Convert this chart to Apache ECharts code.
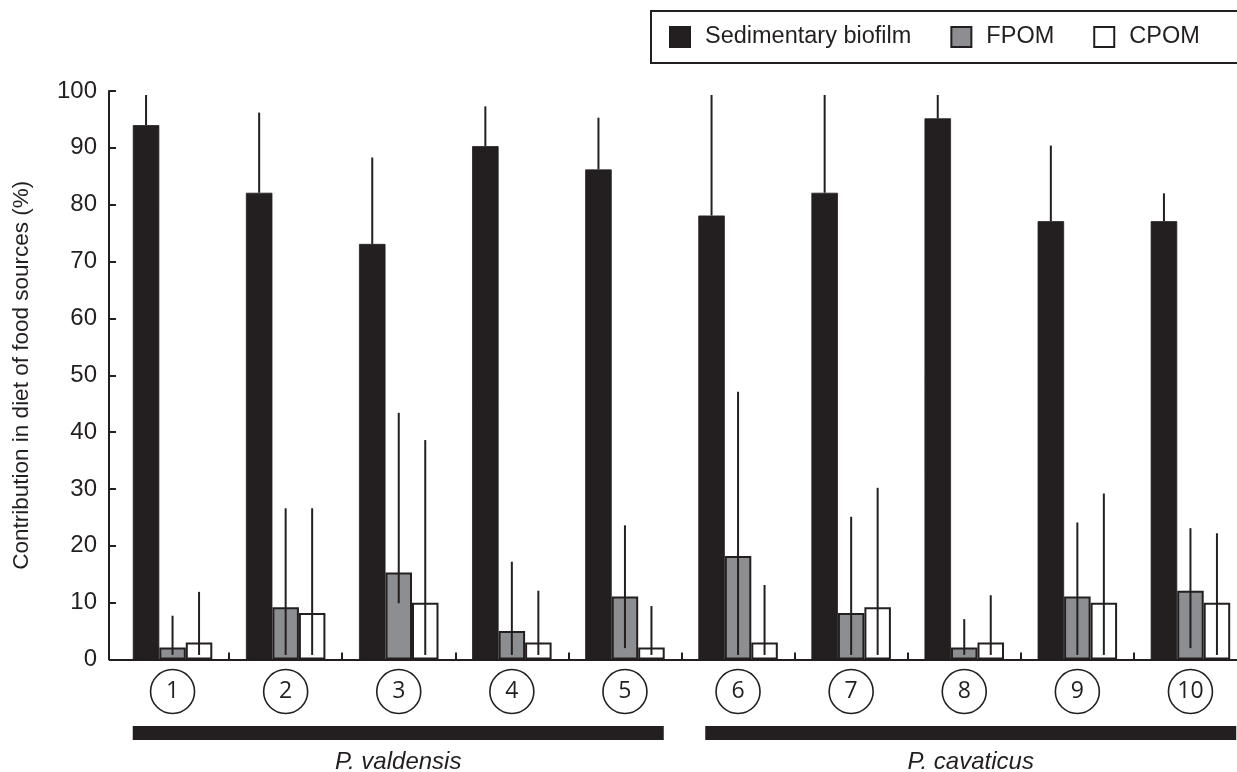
<!DOCTYPE html>
<html>
<head>
<meta charset="utf-8">
<script src="https://cdn.jsdelivr.net/npm/echarts@6/dist/echarts.min.js"></script>
<style>
html,body{margin:0;padding:0;background:#fff;}
#chart{width:1237px;height:772px;}
</style>
</head>
<body>
<div id="chart"></div>
<script>
// ---- data ----
const sites = ['1','2','3','4','5','6','7','8','9','10'];
const species = ['P. valdensis', 'P. cavaticus'];
const speciesSpan = [1, 1];
const seriesNames = ['Sedimentary biofilm', 'FPOM', 'CPOM'];
const yTicks = [0, 10, 20, 30, 40, 50, 60, 70, 80, 90, 100];

const biofilm     = [94.0, 82.1, 73.1, 90.3, 86.2, 78.1, 82.1, 95.2, 77.1, 77.1];
const biofilmHigh = [99.3, 96.2, 88.3, 97.3, 95.3, 99.3, 99.3, 99.3, 90.4, 82.0];

const fpom     = [2.1, 9.2, 15.3, 5.0, 11.1, 18.2, 8.2, 2.1, 11.1, 12.1];
const fpomLow  = [0.8, 0.8, 9.9, 0.8, 2.0, 0.8, 0.8, 0.8, 0.8, 2.0];
const fpomHigh = [7.7, 26.6, 43.4, 17.2, 23.6, 47.1, 25.1, 7.1, 24.1, 23.1];

const cpom     = [3.0, 8.2, 10.0, 3.0, 2.1, 3.0, 9.2, 3.0, 10.0, 10.0];
const cpomLow  = [0.8, 0.8, 0.8, 0.8, 0.8, 0.8, 0.8, 0.8, 0.8, 0.8];
const cpomHigh = [11.9, 26.6, 38.6, 12.1, 9.4, 13.1, 30.2, 11.3, 29.2, 22.2];

// ---- styles ----
const INK = '#231f20';
const GRAY = '#8d8e92';
const BAR_W = 26.5;
const FONT = '"Liberation Sans", Arial, sans-serif';

function errData(low, high) {
  return sites.map((s, i) => [i, low[i], high[i]]);
}
function errSeries(name, low, high, offset) {
  return {
    type: 'custom',
    name: name,
    xAxisIndex: 0, yAxisIndex: 0,
    z: 5,
    silent: true,
    encode: { x: 0, y: [1, 2] },
    data: errData(low, high),
    renderItem: function (params, api) {
      const i = api.value(0);
      const a = api.coord([i, api.value(1)]);
      const b = api.coord([i, api.value(2)]);
      const x = a[0] + offset;
      return {
        type: 'line',
        shape: { x1: x, y1: a[1], x2: x, y2: b[1] },
        style: { stroke: INK, lineWidth: 2 }
      };
    }
  };
}

const chart = echarts.init(document.getElementById('chart'), null, { renderer: 'canvas' });

chart.setOption({
  animation: false,
  backgroundColor: '#fff',
  textStyle: { fontFamily: FONT, color: INK },
  legend: {
    data: seriesNames,
    left: 651,
    top: 11,
    width: 900,
    orient: 'horizontal',
    icon: 'rect',
    itemWidth: 20,
    itemHeight: 20,
    itemGap: 39,
    padding: [14, 200, 14, 18],
    borderColor: INK,
    borderWidth: 2,
    textStyle: { fontSize: 23.5, color: INK, fontFamily: FONT, padding: [0, 0, 0, 10] }
  },
  grid: [
    { left: 116, width: 1131, top: 91, height: 568.5, containLabel: false, outerBoundsMode: 'none' },
    { left: 112, width: 1145, top: 726, height: 14, containLabel: false, outerBoundsMode: 'none' }
  ],
  xAxis: [
    {
      type: 'category',
      gridIndex: 0,
      data: sites,
      boundaryGap: true,
      axisLine: { show: true, lineStyle: { color: INK, width: 2 } },
      axisTick: {
        show: true, inside: true, length: 7,
        interval: function (i) { return i !== 0; },
        lineStyle: { color: INK, width: 2 }
      },
      axisLabel: {
        margin: 10,
        formatter: function (v) { return '{c|' + v + '}'; },
        rich: {
          c: {
            width: 44, height: 44, lineHeight: 44,
            align: 'center', verticalAlign: 'middle',
            borderColor: INK, borderWidth: 1.6, borderRadius: 23,
            fontSize: 23, color: INK,
            fontFamily: '"Open Sans", "Noto Sans", sans-serif'
          }
        }
      }
    },
    {
      type: 'category',
      gridIndex: 1,
      data: species,
      boundaryGap: true,
      axisLine: { show: false },
      axisTick: { show: false },
      axisLabel: {
        margin: 10,
        fontSize: 24, fontStyle: 'italic', color: INK, fontFamily: FONT
      }
    }
  ],
  yAxis: [
    {
      type: 'value',
      gridIndex: 0,
      min: yTicks[0],
      max: yTicks[yTicks.length - 1],
      interval: 10,
      offset: 7,
      splitLine: { show: false },
      axisLine: { show: true, lineStyle: { color: INK, width: 2 } },
      axisTick: { show: true, inside: true, length: 7, lineStyle: { color: INK, width: 2 } },
      axisLabel: { fontSize: 24, color: INK, margin: 12, fontFamily: FONT },
      name: 'Contribution in diet of food sources (%)',
      nameLocation: 'middle',
      nameRotate: 90,
      nameGap: 76,
      nameTextStyle: { fontSize: 22.5, color: INK, fontFamily: FONT }
    },
    {
      type: 'value',
      gridIndex: 1,
      min: 0, max: 1,
      show: false
    }
  ],
  series: [
    {
      type: 'bar', name: seriesNames[0], xAxisIndex: 0, yAxisIndex: 0,
      data: biofilm, barWidth: BAR_W, barGap: '0%',
      itemStyle: { color: INK, borderColor: INK, borderWidth: 0.8 }
    },
    {
      type: 'bar', name: seriesNames[1], xAxisIndex: 0, yAxisIndex: 0,
      data: fpom, barWidth: BAR_W, barGap: '0%',
      itemStyle: { color: GRAY, borderColor: INK, borderWidth: 2 }
    },
    {
      type: 'bar', name: seriesNames[2], xAxisIndex: 0, yAxisIndex: 0,
      data: cpom, barWidth: BAR_W, barGap: '0%',
      itemStyle: { color: '#ffffff', borderColor: INK, borderWidth: 2 }
    },
    errSeries('err-biofilm', biofilm, biofilmHigh, -BAR_W),
    errSeries('err-fpom', fpomLow, fpomHigh, 0),
    errSeries('err-cpom', cpomLow, cpomHigh, BAR_W),
    {
      type: 'bar', name: 'species', xAxisIndex: 1, yAxisIndex: 1,
      data: speciesSpan, barWidth: 531, silent: true,
      itemStyle: { color: INK }
    }
  ]
});
</script>
</body>
</html>
